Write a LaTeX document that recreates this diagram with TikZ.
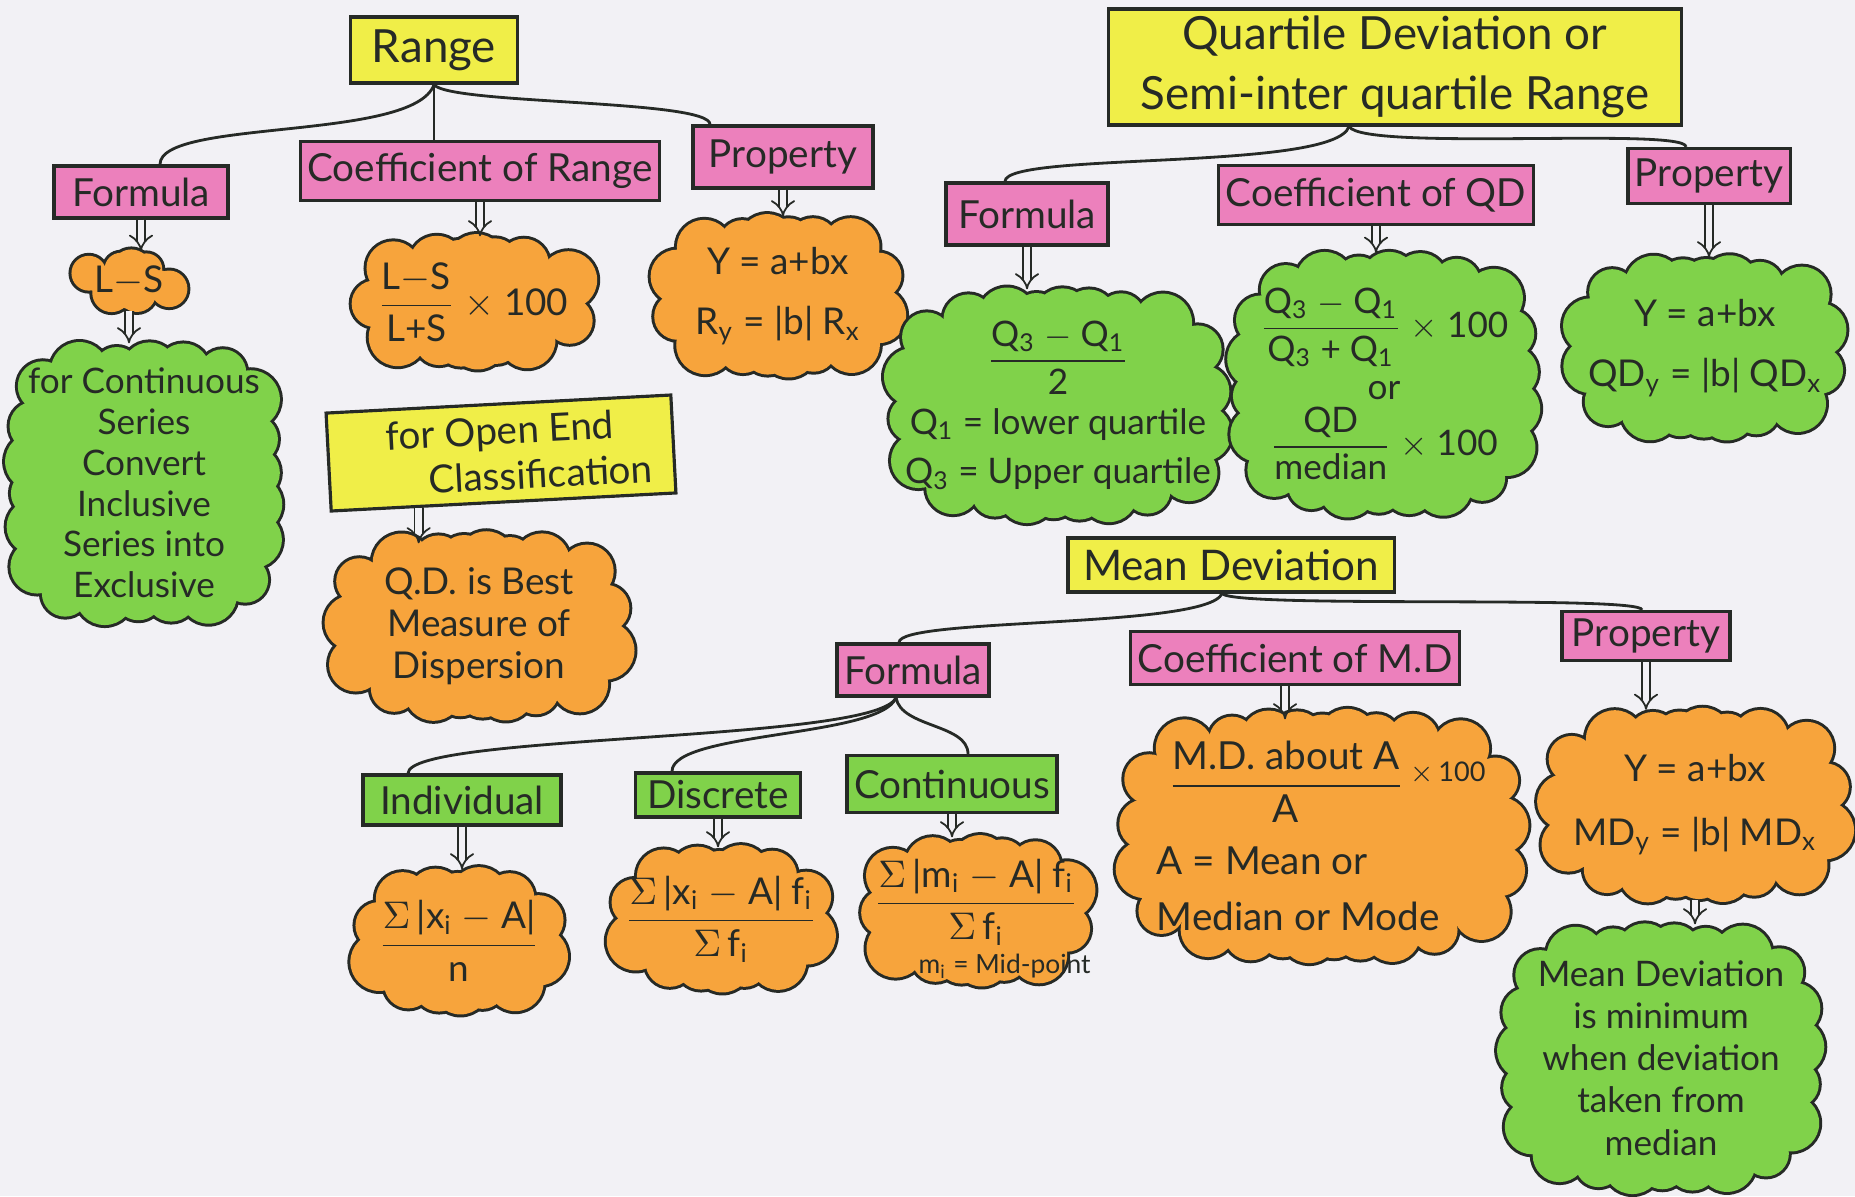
\documentclass[tikz,border=0pt]{standalone}
\usepackage{fontspec}
\usepackage{amsmath}
\setmainfont{Lato}
\usetikzlibrary{arrows.meta,calc}

\definecolor{paper}{RGB}{242,241,245}
\definecolor{ink}{RGB}{38,42,38}
\definecolor{hlyellow}{RGB}{240,238,72}
\definecolor{hlpink}{RGB}{236,128,188}
\definecolor{hlgreen}{RGB}{128,210,74}
\definecolor{hlorange}{RGB}{247,164,60}

% Squareness of the cloud outline: the superellipse exponent is 2*\pfE.
\def\pfE{2}
% Scalloped cloud: centre x, centre y, width, height, colour, number of puffs.
% Puffs sit on a superellipse; outlines first, then fills, so only
% the outer scallops keep their ink.
\newcommand\puffcloud[6]{%
  \pgfmathsetmacro\pfR{min(26,0.3*min(#3,#4))}%
  \pgfmathsetmacro\pfA{#3/2-\pfR}%
  \pgfmathsetmacro\pfK{\pfA/(#4/2-\pfR)}%
  \pgfmathsetmacro\pfQ{-1/(2*\pfE)}%
  \foreach \pfI in {1,...,#6}{%
    \pgfmathsetmacro\pfT{\pfI*360/#6+11}%
    \pgfmathsetmacro\pfD{\pfA*((cos(\pfT)*cos(\pfT))^\pfE+(\pfK*\pfK*sin(\pfT)*sin(\pfT))^\pfE)^\pfQ}%
    \pgfmathsetmacro\pfX{#1+\pfD*cos(\pfT)}%
    \pgfmathsetmacro\pfY{#2+\pfD*sin(\pfT)}%
    \pgfmathsetmacro\pfS{\pfR*(1+0.12*sin(\pfI*137))/100}%
    \draw[ink, line width=1.7pt] (\pfX,\pfY) circle[radius=\pfS cm];
  }%
  \foreach \pfI in {1,...,#6}{%
    \pgfmathsetmacro\pfT{\pfI*360/#6+11}%
    \pgfmathsetmacro\pfD{\pfA*((cos(\pfT)*cos(\pfT))^\pfE+(\pfK*\pfK*sin(\pfT)*sin(\pfT))^\pfE)^\pfQ}%
    \pgfmathsetmacro\pfX{#1+\pfD*cos(\pfT)}%
    \pgfmathsetmacro\pfY{#2+\pfD*sin(\pfT)}%
    \pgfmathsetmacro\pfS{\pfR*(1+0.12*sin(\pfI*137))/100}%
    \fill[#5] (\pfX,\pfY) circle[radius=\pfS cm];
  }%
  \fill[#5] plot[domain=0:360, samples=73, variable=\pfV]
    ({#1+\pfA*cos(\pfV)*((cos(\pfV)*cos(\pfV))^\pfE+(\pfK*\pfK*sin(\pfV)*sin(\pfV))^\pfE)^\pfQ},
     {#2+\pfA*sin(\pfV)*((cos(\pfV)*cos(\pfV))^\pfE+(\pfK*\pfK*sin(\pfV)*sin(\pfV))^\pfE)^\pfQ}) -- cycle;
}
% Cloud with its text node: name, x, y, width, height, colour, puffs, node options, text
\newcommand\cloudnode[9]{%
  \puffcloud{#2}{#3}{#4}{#5}{#6}{#7}%
  \node[ptext, minimum width=#4*0.01cm, minimum height=#5*0.01cm, #8] (#1) at (#2,#3) {#9};
}

\begin{document}
\begin{tikzpicture}[x=0.01cm,y=-0.01cm,
  box/.style={draw=ink, line width=0.9pt, inner sep=2pt, text=ink,
    font=\fontsize{11}{13}\selectfont, align=center},
  titlebox/.style={box, fill=hlyellow},
  pinkbox/.style={box, fill=hlpink},
  greenbox/.style={box, fill=hlgreen},
  ptext/.style={text=ink, align=center, inner sep=0pt,
    font=\fontsize{10.5}{12}\selectfont},
  implies/.style={draw=ink, double=paper, double distance=1.9pt, line width=0.5pt,
    -{Implies}},
  link/.style={draw=ink, line width=0.8pt}
]
% paper
\fill[paper] (0,0) rectangle (1855,1196);
\useasboundingbox (0,0) rectangle (1855,1196);

% ---------------- Range ----------------
\node[titlebox, minimum width=1.67cm, minimum height=0.66cm,
  font=\fontsize{13}{15}\selectfont] (range) at (434,50) {Range};
\node[pinkbox, minimum width=1.74cm, minimum height=0.52cm] (rform) at (141,192) {Formula};
\node[pinkbox, minimum width=3.43cm, minimum height=0.59cm] (rcoef) at (480,171) {Coefficient of Range};
\node[pinkbox, minimum width=1.80cm, minimum height=0.62cm] (rprop) at (783,157) {Property};

\cloudnode{rls}{129}{281}{120}{59}{hlorange}{8}{}{L$-$S}
{\def\pfE{3}%
\cloudnode{rcont}{144}{483}{272}{278}{hlgreen}{22}{font=\fontsize{10}{11.6}\selectfont}
  {for Continuous\\Series\\Convert\\Inclusive\\Series into\\Exclusive}}
\cloudnode{rcoefc}{473}{302}{248}{130}{hlorange}{15}{}
  {$\dfrac{\text{L$-$S}}{\text{L+S}}$ $\times$ 100}
\cloudnode{rpropc}{778}{296}{254}{158}{hlorange}{16}{}
  {Y = a+bx\\[5pt] R\textsubscript{y} = |b| R\textsubscript{x}}

\node[titlebox, rotate=3, minimum width=3.45cm, minimum height=0.98cm] (openend) at (501,453)
  {for Open End\\\hspace*{2em}Classification};
\cloudnode{qdbest}{479}{626}{306}{184}{hlorange}{19}{}
  {Q.D. is Best\\Measure of\\Dispersion}

\draw[link] (range.south) .. controls +(-20,57) and +(0,-46) .. ($(rform.north)+(19,0)$);
\draw[link] (range.south) -- (range.south |- rcoef.north);
\draw[link] (range.south) .. controls +(15,20) and +(0,-25) .. ($(rprop.north)+(-73,0)$);

\draw[implies] (rform.south) -- (rform.south |- rls.north);
\draw[implies] (rls.south) -- (rls.south |- rcont.north);
\draw[implies] (rcoef.south) -- (rcoef.south |- rcoefc.north);
\draw[implies] (rprop.south) -- (rprop.south |- rpropc.north);
\coordinate (oefoot) at ($(openend.south)+(-85,4)$);
\coordinate (qdtop) at (oefoot |- qdbest.north);
\draw[implies] (oefoot) -- ($(qdtop)+(0,10)$);

% ---------------- Quartile deviation ----------------
\node[titlebox, minimum width=5.73cm, minimum height=1.11cm,
  font=\fontsize{13}{17}\selectfont] (qd) at (1395,67)
  {Quartile Deviation or\\Semi-inter quartile Range};
\node[pinkbox, minimum width=1.62cm, minimum height=0.62cm] (qform) at (1027,214) {Formula};
\node[pinkbox, minimum width=3.04cm, minimum height=0.59cm] (qcoef) at (1376,195) {Coefficient of QD};
\node[pinkbox, minimum width=1.62cm, minimum height=0.55cm] (qprop) at (1709,176) {Property};

\cloudnode{qformc}{1058}{405}{343}{230}{hlgreen}{22}{font=\fontsize{10}{12}\selectfont}
  {$\dfrac{\text{Q\textsubscript{3} $-$ Q\textsubscript{1}}}{\text{2}}$\\[3pt]
   Q\textsubscript{1} = lower quartile\\[2pt] Q\textsubscript{3} = Upper quartile}
\cloudnode{qcoefc}{1384}{384}{308}{261}{hlgreen}{22}{font=\fontsize{10}{12}\selectfont}
  {$\dfrac{\text{Q\textsubscript{3} $-$ Q\textsubscript{1}}}{\text{Q\textsubscript{3} + Q\textsubscript{1}}}$ $\times$ 100\\[3pt]
   or\\[1pt] $\dfrac{\text{QD}}{\text{median}}$ $\times$ 100}
\cloudnode{qpropc}{1705}{348}{282}{180}{hlgreen}{18}{}
  {Y = a+bx\\[5pt] QD\textsubscript{y} = |b| QD\textsubscript{x}}

\draw[link] ($(qd.south)+(-46,0)$) .. controls +(-15,45) and +(0,-30) .. ($(qform.north)+(-22,0)$);
\draw[link] ($(qd.south)+(-46,0)$) -- ($(qd.south)+(-46,0)$ |- qcoef.north);
\draw[link] ($(qd.south)+(-46,0)$) .. controls +(15,25) and +(0,-20) .. ($(qprop.north)+(-23,0)$);

\draw[implies] (qform.south) -- (qform.south |- qformc.north);
\draw[implies] (qcoef.south) -- (qcoef.south |- qcoefc.north);
\draw[implies] (qprop.south) -- (qprop.south |- qpropc.north);

% ---------------- Mean deviation ----------------
\node[titlebox, minimum width=3.26cm, minimum height=0.54cm,
  font=\fontsize{12}{14}\selectfont] (md) at (1231,565) {Mean Deviation};
\node[pinkbox, minimum width=1.50cm, minimum height=0.52cm] (mform) at (913,670) {Formula};
\node[pinkbox, minimum width=3.15cm, minimum height=0.53cm] (mcoef) at (1295,658) {Coefficient of M.D};
\node[pinkbox, minimum width=1.68cm, minimum height=0.49cm] (mprop) at (1646,636) {Property};

\node[greenbox, minimum width=1.98cm, minimum height=0.50cm] (ind) at (462,800) {Individual};
\node[greenbox, minimum width=1.65cm, minimum height=0.44cm] (disc) at (718,795) {Discrete};
\node[greenbox, minimum width=2.08cm, minimum height=0.57cm] (cont) at (952,784) {Continuous};

\cloudnode{indc}{459}{941}{213}{142}{hlorange}{14}{}
  {$\dfrac{\Sigma\,\text{|x\textsubscript{i} $-$ A|}}{\text{n}}$}
\cloudnode{discc}{721}{919}{225}{142}{hlorange}{14}{}
  {$\dfrac{\Sigma\,\text{|x\textsubscript{i} $-$ A| f\textsubscript{i}}}{\Sigma\,\text{f\textsubscript{i}}}$}
\cloudnode{contc}{976}{911}{235}{146}{hlorange}{15}{text depth=0.5cm}
  {$\dfrac{\Sigma\,\text{|m\textsubscript{i} $-$ A| f\textsubscript{i}}}{\Sigma\,\text{f\textsubscript{i}}}$}
\node[ptext, font=\fontsize{7.5}{8}\selectfont, anchor=west] (midpt) at (918,966)
  {m\textsubscript{i} = Mid-point};

\cloudnode{mcoefc}{1322}{836}{408}{248}{hlorange}{25}{align=left, font=\fontsize{11}{13}\selectfont}
  {\hspace*{0.3em}$\dfrac{\text{M.D. about A}}{\text{A}}\,{}^{\times\,\text{100}}$\\[6pt]
   A = Mean or\\[3pt] Median or Mode}
\cloudnode{mpropc}{1695}{805}{313}{189}{hlorange}{19}{}
  {Y = a+bx\\[6pt] MD\textsubscript{y} = |b| MD\textsubscript{x}}
\cloudnode{mmin}{1661}{1058}{322}{266}{hlgreen}{23}{font=\fontsize{10}{12}\selectfont}
  {Mean Deviation\\is minimum\\when deviation\\taken from\\median}

\draw[link] ($(md.south)+(-9,0)$) .. controls +(-15,35) and +(0,-25) .. ($(mform.north)+(-14,0)$);
\draw[link] ($(md.south)+(-9,0)$) -- ($(md.south)+(-9,0)$ |- mcoef.north);
\draw[link] ($(md.south)+(-9,0)$) .. controls +(15,15) and +(0,-15) .. ($(mprop.north)+(-4,0)$);

\draw[link] ($(mform.south)+(-17,0)$) .. controls +(-20,45) and +(0,-40) .. ($(ind.north)+(-54,0)$);
\draw[link] ($(mform.south)+(-17,0)$) .. controls +(-15,40) and +(0,-40) .. ($(disc.north)+(-46,0)$);
\draw[link] ($(mform.south)+(-17,0)$) .. controls +(5,30) and +(0,-30) .. ($(cont.north)+(16,0)$);

\draw[implies] (ind.south) -- (ind.south |- indc.north);
\draw[implies] (disc.south) -- (disc.south |- discc.north);
\draw[implies] (cont.south) -- (cont.south |- contc.north);
\coordinate (mcfoot) at ($(mcoef.south)+(-10,0)$);
\coordinate (mctop) at (mcfoot |- mcoefc.north);
\draw[implies] (mcfoot) -- ($(mctop)+(0,8)$);
\draw[implies] (mprop.south) -- (mprop.south |- mpropc.north);
\draw[implies] (mpropc.south) -- (mpropc.south |- mmin.north);
\end{tikzpicture}
\end{document}
